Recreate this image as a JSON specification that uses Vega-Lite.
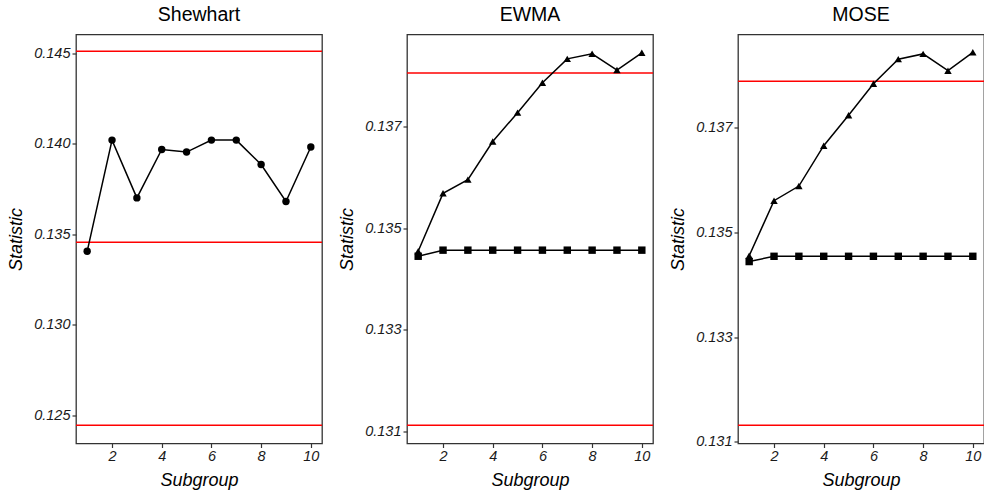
{
  "$schema": "https://vega.github.io/schema/vega-lite/v6.json",
  "padding": {"left": 7, "top": 3.5, "right": 0, "bottom": 0},
  "background": "white",
  "datasets": {
    "stats": [
      {"chart": "Shewhart", "series": "stat", "subgroup": 1, "value": 0.13406},
      {"chart": "Shewhart", "series": "stat", "subgroup": 2, "value": 0.14020},
      {"chart": "Shewhart", "series": "stat", "subgroup": 3, "value": 0.13701},
      {"chart": "Shewhart", "series": "stat", "subgroup": 4, "value": 0.13968},
      {"chart": "Shewhart", "series": "stat", "subgroup": 5, "value": 0.13954},
      {"chart": "Shewhart", "series": "stat", "subgroup": 6, "value": 0.14020},
      {"chart": "Shewhart", "series": "stat", "subgroup": 7, "value": 0.14020},
      {"chart": "Shewhart", "series": "stat", "subgroup": 8, "value": 0.13885},
      {"chart": "Shewhart", "series": "stat", "subgroup": 9, "value": 0.13681},
      {"chart": "Shewhart", "series": "stat", "subgroup": 10, "value": 0.13982},
      {"chart": "EWMA", "series": "upper", "subgroup": 1, "value": 0.13455},
      {"chart": "EWMA", "series": "upper", "subgroup": 2, "value": 0.13569},
      {"chart": "EWMA", "series": "upper", "subgroup": 3, "value": 0.13596},
      {"chart": "EWMA", "series": "upper", "subgroup": 4, "value": 0.13671},
      {"chart": "EWMA", "series": "upper", "subgroup": 5, "value": 0.13728},
      {"chart": "EWMA", "series": "upper", "subgroup": 6, "value": 0.13787},
      {"chart": "EWMA", "series": "upper", "subgroup": 7, "value": 0.13834},
      {"chart": "EWMA", "series": "upper", "subgroup": 8, "value": 0.13844},
      {"chart": "EWMA", "series": "upper", "subgroup": 9, "value": 0.13812},
      {"chart": "EWMA", "series": "upper", "subgroup": 10, "value": 0.13846},
      {"chart": "EWMA", "series": "lower", "subgroup": 1, "value": 0.13445},
      {"chart": "EWMA", "series": "lower", "subgroup": 2, "value": 0.13457},
      {"chart": "EWMA", "series": "lower", "subgroup": 3, "value": 0.13457},
      {"chart": "EWMA", "series": "lower", "subgroup": 4, "value": 0.13457},
      {"chart": "EWMA", "series": "lower", "subgroup": 5, "value": 0.13457},
      {"chart": "EWMA", "series": "lower", "subgroup": 6, "value": 0.13457},
      {"chart": "EWMA", "series": "lower", "subgroup": 7, "value": 0.13457},
      {"chart": "EWMA", "series": "lower", "subgroup": 8, "value": 0.13457},
      {"chart": "EWMA", "series": "lower", "subgroup": 9, "value": 0.13457},
      {"chart": "EWMA", "series": "lower", "subgroup": 10, "value": 0.13457},
      {"chart": "MOSE", "series": "upper", "subgroup": 1, "value": 0.13455},
      {"chart": "MOSE", "series": "upper", "subgroup": 2, "value": 0.13560},
      {"chart": "MOSE", "series": "upper", "subgroup": 3, "value": 0.13588},
      {"chart": "MOSE", "series": "upper", "subgroup": 4, "value": 0.13665},
      {"chart": "MOSE", "series": "upper", "subgroup": 5, "value": 0.13723},
      {"chart": "MOSE", "series": "upper", "subgroup": 6, "value": 0.13783},
      {"chart": "MOSE", "series": "upper", "subgroup": 7, "value": 0.13830},
      {"chart": "MOSE", "series": "upper", "subgroup": 8, "value": 0.13840},
      {"chart": "MOSE", "series": "upper", "subgroup": 9, "value": 0.13808},
      {"chart": "MOSE", "series": "upper", "subgroup": 10, "value": 0.13843},
      {"chart": "MOSE", "series": "lower", "subgroup": 1, "value": 0.13444},
      {"chart": "MOSE", "series": "lower", "subgroup": 2, "value": 0.13454},
      {"chart": "MOSE", "series": "lower", "subgroup": 3, "value": 0.13454},
      {"chart": "MOSE", "series": "lower", "subgroup": 4, "value": 0.13454},
      {"chart": "MOSE", "series": "lower", "subgroup": 5, "value": 0.13454},
      {"chart": "MOSE", "series": "lower", "subgroup": 6, "value": 0.13454},
      {"chart": "MOSE", "series": "lower", "subgroup": 7, "value": 0.13454},
      {"chart": "MOSE", "series": "lower", "subgroup": 8, "value": 0.13454},
      {"chart": "MOSE", "series": "lower", "subgroup": 9, "value": 0.13454},
      {"chart": "MOSE", "series": "lower", "subgroup": 10, "value": 0.13454}
    ],
    "limits": [
      {"chart": "Shewhart", "limit": "UCL", "value": 0.14510},
      {"chart": "Shewhart", "limit": "CL", "value": 0.13456},
      {"chart": "Shewhart", "limit": "LCL", "value": 0.12446},
      {"chart": "EWMA", "limit": "UCL", "value": 0.13806},
      {"chart": "EWMA", "limit": "LCL", "value": 0.13112},
      {"chart": "MOSE", "limit": "UCL", "value": 0.13788},
      {"chart": "MOSE", "limit": "LCL", "value": 0.13132}
    ]
  },
  "config": {
    "font": "Liberation Sans",
    "view": {"stroke": "#333333", "strokeWidth": 1.3},
    "axis": {
      "grid": false, "domain": false,
      "tickColor": "#333333", "tickSize": 4, "tickWidth": 1.2,
      "labelFont": "Liberation Sans", "labelFontStyle": "italic", "labelFontSize": 14.5,
      "labelColor": "#1a1a1a", "labelPadding": 2,
      "titleFont": "Liberation Sans", "titleFontStyle": "italic", "titleFontSize": 18,
      "titleFontWeight": "normal", "titleColor": "#000000", "titlePadding": 8
    },
    "title": {"font": "Liberation Sans", "fontSize": 19.5, "fontWeight": "normal", "color": "#000000", "anchor": "middle", "offset": 9.5},
    "concat": {"spacing": 14}
  },
  "hconcat": [
    {
      "title": "Shewhart",
      "width": 246, "height": 409,
      "layer": [
        {
          "data": {"name": "limits"},
          "transform": [{"filter": "datum.chart == 'Shewhart'"}],
          "mark": {"type": "rule", "color": "#ff0000", "strokeWidth": 1.5},
          "encoding": {
            "y": {"field": "value", "type": "quantitative", "scale": {"domain": [0.12345, 0.14603], "nice": false, "zero": false},
                  "axis": {"values": [0.125, 0.130, 0.135, 0.140, 0.145], "format": ".3f", "title": "Statistic"}}
          }
        },
        {
          "data": {"name": "stats"},
          "transform": [{"filter": "datum.chart == 'Shewhart'"}],
          "mark": {"type": "line", "color": "#000000", "strokeWidth": 1.5},
          "encoding": {
            "x": {"field": "subgroup", "type": "quantitative", "scale": {"domain": [0.55, 10.45], "nice": false, "zero": false},
                  "axis": {"values": [2, 4, 6, 8, 10], "title": "Subgroup"}},
            "y": {"field": "value", "type": "quantitative"},
            "detail": {"field": "series"}
          }
        },
        {
          "data": {"name": "stats"},
          "transform": [{"filter": "datum.chart == 'Shewhart'"}],
          "mark": {"type": "point", "filled": true, "color": "#000000", "opacity": 1},
          "encoding": {
            "x": {"field": "subgroup", "type": "quantitative"},
            "y": {"field": "value", "type": "quantitative"},
            "shape": {"field": "series", "scale": {"domain": ["stat", "upper", "lower"], "range": ["circle", "triangle-up", "square"]}, "legend": null},
            "size": {"field": "series", "scale": {"domain": ["stat", "upper", "lower"], "range": [55, 55, 45]}, "legend": null}
          }
        }
      ]
    },
    {
      "title": "EWMA",
      "width": 246, "height": 409,
      "layer": [
        {
          "data": {"name": "limits"},
          "transform": [{"filter": "datum.chart == 'EWMA'"}],
          "mark": {"type": "rule", "color": "#ff0000", "strokeWidth": 1.5},
          "encoding": {
            "y": {"field": "value", "type": "quantitative", "scale": {"domain": [0.13076, 0.13882], "nice": false, "zero": false},
                  "axis": {"values": [0.131, 0.133, 0.135, 0.137], "format": ".3f", "title": "Statistic"}}
          }
        },
        {
          "data": {"name": "stats"},
          "transform": [{"filter": "datum.chart == 'EWMA'"}],
          "mark": {"type": "line", "color": "#000000", "strokeWidth": 1.5},
          "encoding": {
            "x": {"field": "subgroup", "type": "quantitative", "scale": {"domain": [0.55, 10.45], "nice": false, "zero": false},
                  "axis": {"values": [2, 4, 6, 8, 10], "title": "Subgroup"}},
            "y": {"field": "value", "type": "quantitative"},
            "detail": {"field": "series"}
          }
        },
        {
          "data": {"name": "stats"},
          "transform": [{"filter": "datum.chart == 'EWMA'"}],
          "mark": {"type": "point", "filled": true, "color": "#000000", "opacity": 1},
          "encoding": {
            "x": {"field": "subgroup", "type": "quantitative"},
            "y": {"field": "value", "type": "quantitative"},
            "shape": {"field": "series", "scale": {"domain": ["stat", "upper", "lower"], "range": ["circle", "triangle-up", "square"]}, "legend": null},
            "size": {"field": "series", "scale": {"domain": ["stat", "upper", "lower"], "range": [55, 55, 45]}, "legend": null}
          }
        }
      ]
    },
    {
      "title": "MOSE",
      "width": 246, "height": 409,
      "layer": [
        {
          "data": {"name": "limits"},
          "transform": [{"filter": "datum.chart == 'MOSE'"}],
          "mark": {"type": "rule", "color": "#ff0000", "strokeWidth": 1.5},
          "encoding": {
            "y": {"field": "value", "type": "quantitative", "scale": {"domain": [0.13097, 0.13877], "nice": false, "zero": false},
                  "axis": {"values": [0.131, 0.133, 0.135, 0.137], "format": ".3f", "title": "Statistic"}}
          }
        },
        {
          "data": {"name": "stats"},
          "transform": [{"filter": "datum.chart == 'MOSE'"}],
          "mark": {"type": "line", "color": "#000000", "strokeWidth": 1.5},
          "encoding": {
            "x": {"field": "subgroup", "type": "quantitative", "scale": {"domain": [0.55, 10.45], "nice": false, "zero": false},
                  "axis": {"values": [2, 4, 6, 8, 10], "title": "Subgroup"}},
            "y": {"field": "value", "type": "quantitative"},
            "detail": {"field": "series"}
          }
        },
        {
          "data": {"name": "stats"},
          "transform": [{"filter": "datum.chart == 'MOSE'"}],
          "mark": {"type": "point", "filled": true, "color": "#000000", "opacity": 1},
          "encoding": {
            "x": {"field": "subgroup", "type": "quantitative"},
            "y": {"field": "value", "type": "quantitative"},
            "shape": {"field": "series", "scale": {"domain": ["stat", "upper", "lower"], "range": ["circle", "triangle-up", "square"]}, "legend": null},
            "size": {"field": "series", "scale": {"domain": ["stat", "upper", "lower"], "range": [55, 55, 45]}, "legend": null}
          }
        }
      ]
    }
  ]
}
